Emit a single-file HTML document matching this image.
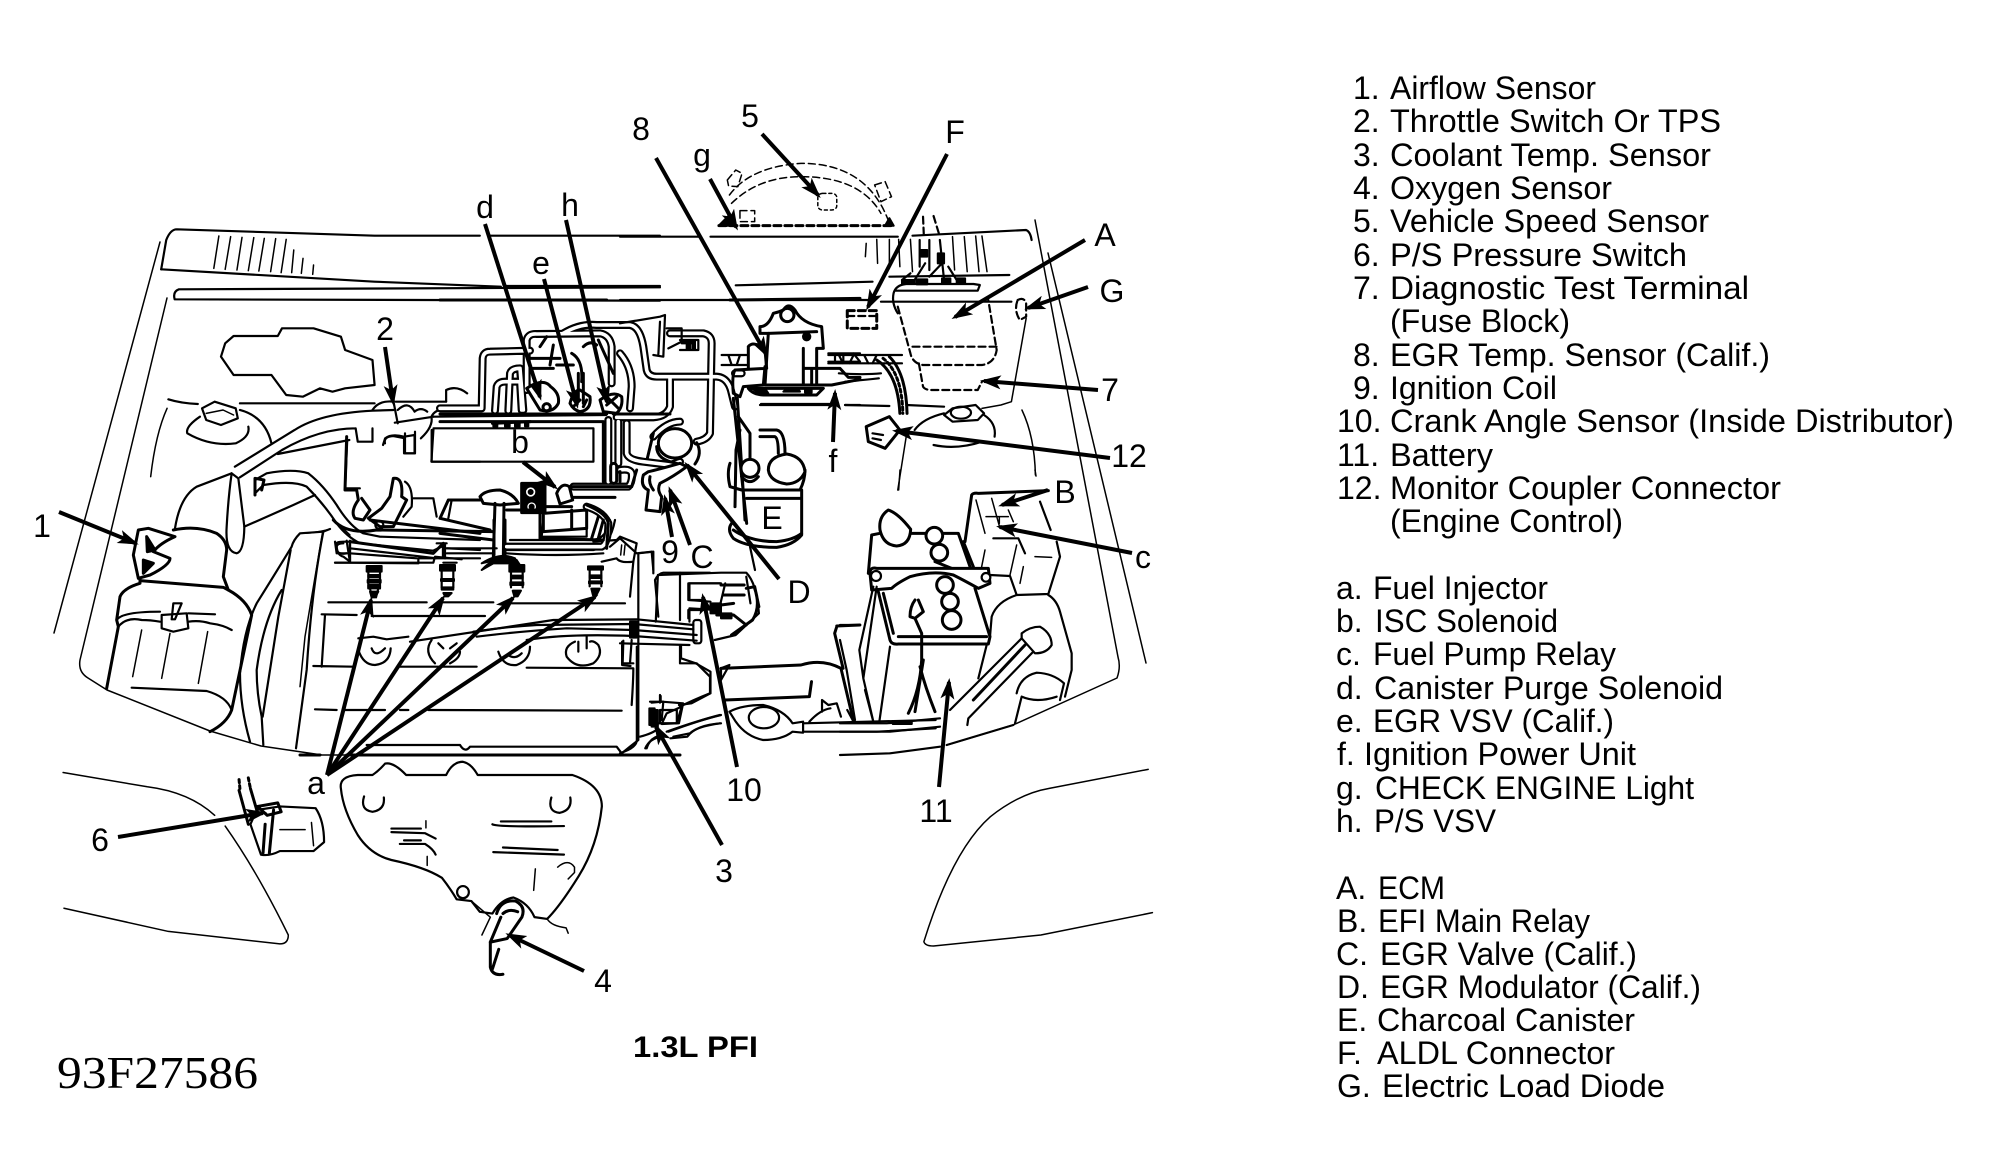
<!DOCTYPE html>
<html><head><meta charset="utf-8"><style>
html,body{margin:0;padding:0;background:#fff;width:1991px;height:1174px;overflow:hidden}
svg{display:block}
path,line,ellipse,circle,rect{vector-effect:non-scaling-stroke}
.art{fill:none;stroke:#000;stroke-width:2;stroke-linecap:round;stroke-linejoin:round}
.t{stroke-width:1.5}.m{stroke-width:2.2}.b{stroke-width:3}
.f{fill:#000}.w{fill:#fff}
.d{stroke-dasharray:7 4}.dd{stroke-dasharray:3 3}
.po{stroke:#000;stroke-width:8;fill:none;stroke-linecap:round;stroke-linejoin:round}
.pi{stroke:#fff;stroke-width:3.6;fill:none;stroke-linecap:round;stroke-linejoin:round}
.ar line{stroke:#000;stroke-width:4;marker-end:url(#m)}
text{font-family:"Liberation Sans",sans-serif;fill:#000}
.lb{font-size:32px;text-anchor:middle}
.le{font-size:32px}
</style></head><body>
<svg xmlns="http://www.w3.org/2000/svg" width="1991" height="1174" viewBox="0 0 1991 1174">
<defs>
<marker id="m" markerUnits="userSpaceOnUse" markerWidth="24" markerHeight="16" refX="17" refY="7" orient="auto"><path d="M0,0 L21,7 L0,14 L5,7Z" fill="#000"/></marker>
<path id="pp" d="M0,355 L125,355 L128,205 Q130,185 150,185 L270,182 M260,300 L260,150 Q265,130 290,132 L480,130 Q510,135 515,170 L515,280 M165,362 L170,290 Q175,275 195,275 L240,275 L245,360 M205,362 L210,250 Q215,235 240,235 L250,360 M370,130 Q420,100 470,105 L570,105 Q600,110 610,170 L620,240 Q625,260 650,260 L830,260 Q865,262 875,310 L885,350 M540,190 Q575,230 575,290 L570,355 M690,130 L790,130 Q815,135 815,160 L810,430 Q800,450 770,455 M690,260 L690,350 Q680,380 640,382 L530,382 M505,390 L505,575 M535,395 L535,520 M560,400 L560,490 Q565,510 610,515 L690,525 L720,515 M400,590 L565,590 Q578,575 575,550 Q570,535 540,540 M640,440 Q680,395 720,395 M200,770 L485,770 Q505,760 505,700 Q490,665 440,650 M885,250 L905,250"/>
</defs>

<!-- body / cowl -->
<g class="art">
<path class="t" d="M160,242 L54,633"/>
<path class="t" d="M167,298 L80,660 Q78,672 88,678 L107,690 L210,731 L261,746 L322,755 L357,755"/>
<path class="t" d="M1035,220 L1118,657 Q1121,667 1117,678 L1013,725 L947,745"/>
<path class="t" d="M1048,253 L1146,663"/>
</g>
<g class="art" transform="translate(0,80) scale(.42088,.33333)">
<path class="m" d="M383,568 L395,480 Q405,448 420,448 L890,467 L1140,467 M1165,467 L1568,467"/>
<path class="m" d="M383,568 L890,605 L1190,620"/>
<path class="m" d="M425,628 L1568,622 M425,628 Q410,635 415,658 L1568,662 M1200,618 L1568,618"/>
<path class="t" d="M520,468 L508,565 M548,470 L535,568 M575,472 L563,570 M603,473 L590,572 M628,475 L615,573 M655,476 L643,575 M680,478 L668,578 M698,510 L693,578 M720,535 L716,580 M745,555 L743,583"/>
<path class="m" d="M555,768 L660,768 L670,745 L745,745 L810,770 L820,810 L885,840 L890,915 L820,925 L790,935 L760,925 L720,950 L680,945 L645,885 L555,885 L525,830 L535,790 Z"/>
<path class="m" d="M400,958 Q430,970 470,972 M570,970 L890,970 M940,965 L1060,965"/>
<path class="t" d="M397,985 Q370,1060 358,1190"/>
<path class="m w" d="M480,985 L510,965 L560,985 L565,1015 L525,1035 L490,1020 Z"/>
<path class="t" d="M490,1000 L530,990 L555,1005"/>
<path class="m" d="M475,1010 Q440,1040 445,1060 Q500,1100 560,1090 Q595,1070 590,1040 M570,990 Q630,1010 645,1090"/>
<path class="m" d="M885,990 Q900,960 935,965 L945,1030 M945,990 Q970,960 985,995 Q1000,980 1015,995 M1060,965 L1060,930 Q1085,915 1110,940"/>
<path class="m" d="M558,1160 L700,1050 Q760,1000 885,992 L935,990 M570,1192 L670,1110 Q760,1045 845,1045 M660,1122 L830,1080 M845,1045 L850,1085 L885,1085 L885,1045 M825,1080 L820,1225 L855,1225 "/>
<path class="m" d="M938,1028 L1030,1010 M1000,1075 Q1030,1040 1025,1010 Q1035,985 1060,990 L1140,990 M910,1095 L915,1075 Q930,1060 960,1070 L985,1065 L985,1120 L960,1120 L960,1075"/>
<path class="m" d="M1030,1045 L1410,1045 L1410,1145 L1025,1145 Z"/>
<path class="m" d="M1030,1010 L1440,1005"/>
<path class="b" d="M1170,1030 L1260,1025"/>
</g>

<!-- air cleaner region -->
<g class="art" transform="translate(60,430) scale(.33333)">
<path class="m w" d="M515,130 Q505,200 500,290 Q495,365 530,370 Q552,365 553,290 L535,145 Z"/>
<path class="m" d="M553,290 L700,225 L765,195"/>
<path class="m" d="M515,130 L410,170 Q360,200 345,295"/>
<path class="b" d="M340,300 Q410,285 470,310 Q500,330 500,360 L490,440 L505,480"/>
<path class="b" d="M235,300 L265,295 L345,320 Q300,340 280,365 L330,385 Q330,405 270,435 L235,445 L220,375 Z"/>
<path class="b f" d="M260,320 L285,360 L262,365 Z M250,390 L280,400 L250,430 Z"/>
<path class="b" d="M240,445 L240,460 Q190,475 180,500 L170,570 L175,590 L140,775"/>
<path class="b" d="M240,452 Q370,462 490,472 L505,480 Q560,510 575,555 L515,840 Q500,880 450,905"/>
<path class="m" d="M170,570 Q185,545 300,545 M385,550 L465,553 M175,590 Q200,560 245,570 Q270,570 300,575 M385,575 Q420,570 450,580 Q490,585 515,600"/>
<path class="m w" d="M305,555 L380,550 L385,595 L340,605 L305,595 Z"/>
<path class="m" d="M340,520 L365,520 L345,568 L335,568 Z"/>
<path class="t" d="M245,600 L218,740 M330,610 L305,745 M443,605 L415,760"/>
<path class="m" d="M215,773 L440,783 Q500,800 515,840"/>
<path class="m" d="M810,297 L790,305 L720,310 Q700,330 695,350 Q640,440 590,520 Q550,600 540,730 Q540,830 570,935"/>
<path class="m" d="M665,480 Q610,570 590,720 Q590,790 605,860 L610,945"/>
<path class="m" d="M692,360 L655,560 L608,860"/>
<path class="m" d="M790,305 Q755,480 740,720 L708,955"/>
<path class="m" d="M585,150 L620,130 Q700,115 745,130 Q790,165 830,225 Q870,290 910,310 L960,320 L1260,330"/>
<path class="m" d="M585,190 L610,165 Q700,150 740,170 Q790,220 830,280 Q860,320 900,340 L1120,362 L1155,345 L1155,385"/>
<path class="b" d="M585,145 L585,195 M585,145 L612,150 L605,180"/>
<path class="m" d="M830,345 Q825,335 850,335 L870,335 L870,395 L850,380 Q830,375 830,345 Z M870,355 L1130,385 M825,398 L870,398 L1075,400 L1075,385 L1150,385 L1260,385 M1160,355 L1260,360"/>
<path class="b" d="M860,20 L855,180 L890,180 M890,180 L895,210 Q870,245 885,265 L910,270 L930,240 L905,205"/>
<path class="b" d="M1000,145 Q1030,140 1025,200 L1040,210 L1000,290 L960,290 L925,265 L965,235 L990,200 Z"/>
<path class="m" d="M1035,155 Q1060,170 1055,230 L1030,260 M1060,205 L1120,205 L1130,260 M1165,265 L1175,210 L1260,210"/>
<path class="b" d="M930,270 L1260,310"/>
<circle class="m" cx="958" cy="285" r="12"/>
<path class="m" d="M975,40 Q970,20 1000,18 M1035,10 L1035,70 L1065,70 L1065,5 M1035,25 L1000,18 M1115,0 L1115,95 L1260,95"/>
</g>

<!-- engine lower -->
<g class="art" transform="translate(300,520) scale(.33333)">
<path class="m" d="M85,247 L380,247 M420,247 L580,247 M630,250 L975,250"/>
<path class="m" d="M65,283 L170,285 M215,288 L555,288"/>
<path class="m" d="M75,285 L65,440 M40,438 L160,440 M300,440 L530,440 M680,443 L1000,445 Q1000,480 995,555"/>
<path class="m" d="M45,568 L110,570 M135,570 L255,570 M300,570 L325,570 M385,570 L965,572"/>
<path class="m" d="M200,675 L480,675 Q495,700 510,680 L950,680 L965,700 L990,680 L1015,660 L1015,100 L1060,95 L1060,160"/>
<path class="b" d="M0,705 L60,705 M140,705 L1140,705"/>
<path class="t" d="M100,0 Q125,20 150,45 M80,30 Q40,40 0,40 M68,35 L15,350 L0,500"/>
<path class="m" d="M175,390 Q190,435 225,435 Q270,430 272,385 M215,385 Q225,415 255,385"/>
<path class="m" d="M395,360 Q370,395 405,430 M450,430 Q480,415 480,395 M415,370 L430,385 M450,385 L470,370"/>
<path class="m" d="M595,395 Q610,440 650,435 Q690,420 690,380 M625,405 Q645,420 665,400"/>
<path class="m" d="M825,365 Q790,380 800,410 Q830,450 880,430 Q910,405 895,375 Q880,360 870,365 M835,365 L835,395 M860,350 L860,385"/>
<path class="m" d="M175,355 L220,350 L260,358 L325,350"/>
<path class="m" d="M330,365 Q500,340 760,300 L1010,298 L1180,315"/>
<path class="m" d="M520,335 Q620,320 710,315 L1000,312 L1180,328"/>
<path class="m" d="M530,350 Q650,335 800,325 L1000,330 L1190,345"/>
<path class="m" d="M680,360 Q800,340 1000,348 L1190,362"/>
<rect class="f" x="990" y="305" width="20" height="48"/>
<rect class="m" x="1180" y="300" width="24" height="70" rx="8"/>
<path class="m" d="M970,362 L968,430 L1000,430 M995,360 L990,430"/>
<path class="m" d="M105,128 L400,128 L405,110 L485,118 M430,128 L470,128 M105,128 L150,128 M105,65 L110,100 L140,100 M140,62 L150,128 M150,62 L150,128 M150,100 L350,115"/>
<path class="m" d="M130,70 Q105,70 110,90 Q115,105 140,100"/>
<path class="b" d="M100,0 Q140,45 230,30 L580,35 M150,65 L400,100 L430,70 L430,110"/>
<path class="m" d="M410,70 L440,70 M440,85 L590,85 M440,100 L580,100"/>
<path class="m" d="M630,60 L880,60 Q920,55 930,0 M620,90 L880,90 Q930,80 945,0 M730,0 L725,50 L860,50 L860,0"/>
<path class="b" d="M582,0 L582,105 M615,0 L615,105"/>
<path class="f" d="M545,130 Q600,95 645,115 L650,130 L620,122 L580,122 Z"/>
<path class="m" d="M905,125 L950,115 Q960,130 1000,125 L1010,70 L960,50 L950,60 L880,65"/>
<path class="t" d="M965,75 L962,105 M975,75 L972,105"/>
<path class="m" d="M1000,125 L990,230"/>
<path class="m" d="M1075,290 L1065,180 Q1075,160 1090,158 L1230,158"/>
<path class="m" d="M1140,158 L1140,300 M1165,190 L1260,190 M1165,190 L1165,240 L1215,240 M1165,270 L1210,270 L1165,270 L1165,295"/>
<path class="m" d="M1140,375 L1140,430 L1190,430 L1230,470 L1230,520 M1230,520 Q1180,540 1140,560"/>
<path class="m" d="M1050,545 L1090,545 L1085,600 M1100,580 L1145,560 L1130,610 L1085,612 Z"/>
<rect class="f" x="1048" y="565" width="16" height="50"/>
<path class="m" d="M1082,528 L1082,545"/>
<path class="m" d="M1020,650 Q1060,640 1075,625 M1040,685 Q1050,650 1090,645 M1100,635 Q1200,600 1260,585 M1120,650 L1170,640 Q1190,620 1260,610"/>
<!-- injectors -->
<g id="inj">
<path class="f" d="M200,138 L245,138 L245,155 L200,155 Z M205,165 L240,165 L240,172 L205,172 Z M203,180 L242,180 L242,188 L203,188 Z M205,195 L240,195 L240,205 L205,205 Z M210,215 L235,215 L225,232 L215,232 Z"/>
<path class="m" d="M205,155 L205,205 M240,155 L240,205 M210,205 L215,232 M235,205 L228,232"/>
</g>
<g transform="translate(220,-3)"><path class="f" d="M200,138 L245,138 L245,155 L200,155 Z M203,180 L242,180 L242,186 L203,186 Z M205,205 L240,205 L240,212 L205,212 Z M210,222 L235,222 L225,232 L215,232 Z"/><path class="m" d="M205,155 L205,205 M240,155 L240,205"/></g>
<g transform="translate(428,-3)"><path class="f" d="M200,138 L245,138 L245,158 L200,158 Z M205,170 L240,170 L240,178 L205,178 Z M203,190 L242,190 L242,198 L203,198 Z M210,215 L235,215 L225,232 L215,232 Z"/><path class="m" d="M205,155 L205,205 M240,155 L240,205"/></g>
<g transform="translate(664,-6)"><path class="f" d="M200,145 L245,145 L245,155 L200,155 Z M205,172 L240,172 L240,180 L205,180 Z M203,190 L242,190 L242,196 L203,196 Z M210,212 L235,212 L225,232 L215,232 Z"/><path class="m" d="M205,155 L205,205 M240,155 L240,205"/></g>
</g>

<!-- pipes middle -->
<g transform="translate(440,290) scale(.33333)">
<use href="#pp" class="po"/><use href="#pp" class="pi"/>
</g>
<g class="art" transform="translate(440,290) scale(.33333)">
<path class="b" d="M0,372 L500,372 M0,395 L490,395 L490,575 M520,372 L690,372"/>
<path class="b" d="M0,30 L500,30 M870,30 L1260,25"/>
<path class="b w" d="M260,295 Q310,262 332,290 Q360,310 355,340 Q340,370 300,360 Z"/>
<path class="b w" d="M390,340 Q400,300 420,300 L450,320 Q455,360 420,365 Q400,360 390,340 Z"/>
<path class="b w" d="M480,330 Q520,300 545,320 Q550,350 530,370 L490,365 Z"/>
<circle class="b" cx="320" cy="352" r="11"/>
<path class="b" d="M500,345 L530,320 M500,320 L535,355 M400,350 L420,330 M430,350 L440,330"/>
<path class="f" d="M160,398 h12 v12 h-12z M195,398 h14 v12 h-14z M225,398 h14 v12 h-14z M255,395 h10 v14 h-10z"/>
<path class="m" d="M540,100 L660,80 L675,75 L670,200 L640,195 M660,95 L655,195 M680,115 L725,115 L725,155 L685,175 M720,150 L775,150 L775,180 L720,180"/>
<path class="f" d="M725,150 h40 v10 h-40z M740,160 h10 v18 h-10z M757,160 h8 v18 h-8z"/>
<path class="b" d="M330,225 L340,165 M300,205 L360,205 M350,225 L400,225 M395,190 Q430,210 425,275 M430,170 Q450,150 470,165 M430,250 L430,340 M415,250 L415,330 M475,150 L520,250 M270,205 L320,205 M280,235 L340,235 M300,170 L320,140"/>
<!-- modulator -->
<ellipse class="b w" cx="705" cy="460" rx="50" ry="44"/>
<path class="b" d="M650,470 Q650,510 710,520 M770,458 Q788,490 765,522 M640,430 L622,505"/>
<!-- valve C -->
<path class="b w" d="M610,555 Q600,590 625,600 L618,660 L660,665 L665,620 Q650,600 660,580 Q700,560 740,530 L720,520 Q650,540 625,545 Z"/>
<path class="b" d="M630,560 Q625,580 640,600"/>
<rect class="b" x="512" y="520" width="18" height="60" rx="9" fill="#fff"/>
<path class="b" d="M540,545 L540,575 M590,540 L575,590"/>
<!-- ISC -->
<path class="b f" d="M245,580 L315,580 L315,668 L245,668 Z"/>
<circle cx="272" cy="606" r="17" fill="#fff" stroke="#000" stroke-width="2"/>
<circle cx="275" cy="650" r="16" fill="#fff" stroke="#000" stroke-width="2"/>
<circle cx="272" cy="606" r="6" fill="#000"/>
<circle cx="275" cy="650" r="6" fill="#000"/>
<path class="b w" d="M350,610 Q365,575 388,590 L398,630 L360,642 Z"/>
<path class="b" d="M395,590 L575,590 M400,622 L525,622"/>
<path class="b" d="M310,670 L440,660 L440,715 L310,725 Z M395,660 L395,715"/>
<path class="b" d="M315,650 L395,650 M440,645 Q500,670 505,700 L500,775 M455,745 L475,680 M475,745 L490,690"/>
<path class="b" d="M300,660 L300,745 M200,660 L300,660 M300,745 L490,750"/>
<path class="b" d="M25,630 L120,630 M25,630 L0,685 M0,685 L150,720 M0,730 L160,750"/>
<path class="b w" d="M120,620 Q135,600 180,600 Q220,610 235,640 L180,645 L130,640 Z"/>
<path class="b" d="M165,640 L160,800 M192,640 L190,800"/>
<path class="f" d="M125,840 Q170,790 230,810 L250,840 L210,820 L160,820 Z"/>
<path class="m" d="M200,790 Q350,800 490,790 M510,770 L540,745 L590,790 L635,785 L640,840"/>
<!-- EGR temp bracket -->
<path class="b w" d="M960,110 Q985,110 1000,70 Q1020,65 1030,60 Q1045,35 1065,60 Q1085,100 1145,110 L1150,175 L1130,175 L1130,285 L975,285 L985,130 L960,130 Z"/>
<circle class="b" cx="1042" cy="75" r="20"/>
<circle class="f" cx="1100" cy="140" r="11"/>
<path class="b" d="M985,130 L1130,125 M1090,175 L1090,285 M1095,235 L1200,235 L1225,262 L1260,262 M1130,285 L1175,285 L1260,268 M1115,235 L1115,285"/>
<path class="b" d="M925,170 Q940,150 975,180 L980,235 L885,240 Q875,255 880,310 L900,320 L910,290 L970,285 L975,230 M925,170 L925,235"/>
<path class="b" d="M925,295 Q940,315 975,315 L1130,315 L1150,295 Z"/>
<path class="f" d="M935,295 L975,295 L985,310 L960,312 Z M1040,295 L1075,295 L1080,305 L1030,305 Z M1095,300 h20 v8 h-20z"/>
<path class="m" d="M845,195 L920,195 M845,225 L920,225 M865,195 L875,225 M900,195 L890,225 M1165,190 L1260,190 M1165,215 L1260,215 M1185,190 L1185,215 M1210,190 L1210,215 M1240,190 L1260,215"/>
<path class="m" d="M960,345 L1165,345 M1215,345 L1260,345"/>
<!-- canister -->
<path class="b" d="M880,325 L920,700 M892,325 L915,690 M895,380 L930,430 L930,510 M900,420 L888,480 L885,650"/>
<path class="b" d="M870,520 Q860,550 870,590 L905,600 L1080,600 Q1095,570 1095,540"/>
<path class="b w" d="M985,540 Q985,500 1040,492 Q1090,500 1095,545 Q1080,580 1040,582 Q990,575 985,540 Z"/>
<circle class="b w" cx="930" cy="535" r="27"/>
<path class="b" d="M905,560 Q930,590 955,560"/>
<path class="b" d="M960,420 L1010,420 Q1035,425 1035,490 M960,440 L1005,440 Q1015,445 1015,490"/>
<path class="b" d="M920,625 L1085,625 L1085,735 Q1060,765 1010,772 Q920,772 880,745 Q860,720 875,700 M1085,600 L1085,625 M880,720 Q930,755 1010,755 Q1060,750 1085,730"/>
<path class="m" d="M930,770 L945,840"/>
</g>

<!-- right top details -->
<g class="art" transform="translate(620,80) scale(.42088,.33333)">
<path class="m" d="M0,470 L190,470 M215,470 L660,470 M695,467 L965,450 Q975,455 978,480"/>
<path class="m" d="M275,616 L600,605 M640,590 L925,585 M620,665 L930,665 M0,660 L590,660"/>
<path class="t" d="M585,490 L583,530 M610,478 L612,550 M640,478 L640,550 M662,478 L665,560 M690,478 L695,575 M790,470 L795,570 M818,470 L825,575 M845,468 L853,575 M860,468 L872,575"/>
<path class="t d" d="M260,345 Q310,260 430,250 Q590,250 640,430"/>
<path class="t d" d="M265,370 Q330,290 430,290 Q570,290 620,400"/>
<path class="b d" d="M235,437 L650,437"/>
<path class="m f" d="M235,437 L260,405 L275,437 Z M640,415 L650,437 L630,437 Z"/>
<path class="t d" d="M255,300 L275,270 L290,280 L280,320 L258,318 Z"/>
<path class="t d" d="M605,315 L630,305 L645,350 L620,365 Z"/>
<rect class="t dd" x="470" y="340" width="45" height="50" rx="12"/>
<rect class="t d" x="285" y="392" width="35" height="33"/>
<path class="b d" d="M540,692 L610,692 L610,745 L540,745 Z"/>
<path class="m d" d="M540,708 L610,708"/>
<path class="m" d="M655,632 L850,632 L855,615 L840,612 L680,612 Q655,615 650,640 Q645,670 660,700"/>
<path class="m d" d="M660,680 L690,820 Q695,850 720,855 L860,855 Q890,850 895,810 L875,660"/>
<path class="m d" d="M695,800 L895,800"/>
<path class="m d" d="M710,850 L720,920 Q725,930 740,930 L850,930 L860,905"/>
<path class="m d" d="M720,410 L722,470 M745,408 L760,470"/>
<path class="m" d="M670,600 L690,580 M700,600 L725,550 M712,480 L712,560 M735,590 L765,550 M770,600 L760,480 M800,600 L780,560 M735,480 L735,570"/>
<path class="f" d="M670,600 h30 v12 h-30z M705,598 h25 v15 h-25z M765,595 h20 v15 h-20z M800,595 h20 v15 h-20z M755,520 h15 v30 h-15z M715,510 h15 v20 h-15z"/>
<path class="m d" d="M945,660 Q960,650 965,670 L965,710 L950,720 Q935,690 945,660 Z"/>
<path class="t" d="M965,715 L930,965 L905,975 L860,985"/>
<path class="m" d="M335,972 L500,972 M535,975 L640,978 M680,975 L770,980"/>
<path class="m" d="M495,825 L670,825 M495,850 L670,850 M520,825 L530,850 M555,825 L545,850 M580,825 L590,850 M610,825 L600,850"/>
<path class="b" d="M610,840 Q660,880 665,1000 M640,830 Q680,880 682,1000"/>
<path class="b dd" d="M625,835 Q670,880 672,1000"/>
<path class="b w" d="M585,1040 L640,1010 L665,1050 L630,1105 L590,1085 Z"/>
<path class="m" d="M640,1010 L660,1040 M600,1060 L625,1065 M600,1075 L620,1080"/>
<path class="m w" d="M790,985 L845,975 L865,1000 L850,1020 L790,1025 L770,1005 Z"/>
<ellipse class="m" cx="810" cy="998" rx="24" ry="18"/>
<path class="m" d="M770,1000 Q720,1015 700,1050 M865,1005 Q895,1030 890,1070 M745,1095 Q800,1110 860,1085"/>
<path class="t" d="M955,990 Q985,1070 987,1185 M680,1070 L660,1230"/>
<path class="m" d="M520,880 Q580,885 620,880 M535,905 Q580,900 615,895"/>
</g>

<!-- distributor -->
<g class="art" transform="translate(620,540) scale(.42088,.33333)">
<path class="m" d="M85,245 L90,105 L240,98 L300,98 Q325,130 330,220 L275,285 L225,300"/>
<path class="m" d="M165,130 L240,130 M165,130 L165,180 L215,185 M165,205 L230,210 M165,205 L165,245 M250,130 L235,210 M300,110 L310,190"/>
<path class="b" d="M240,135 L295,135 M245,165 L295,165 M240,195 L270,190 M230,225 L270,225 L300,255 M320,145 Q335,200 315,240 L265,285 M300,145 L320,140 L330,200"/>
<path class="f" d="M215,190 h25 v30 h-25z M240,220 h25 v15 h-25z"/>
<path class="m" d="M40,320 L40,600 Q40,620 10,635 L0,640 M145,315 L145,355 L180,370 L215,395 L215,460 L170,490 L140,495 M95,465 L95,488"/>
<path class="m" d="M0,310 L165,315 M5,305 L5,375 L25,378"/>
<path class="b" d="M240,385 L430,375 Q480,355 525,385 L555,545"/>
<path class="b" d="M250,480 L450,470 L455,425"/>
<path class="b" d="M515,260 L510,280 L530,385 M515,258 L570,255"/>
<path class="m" d="M240,385 L260,375 L240,420 Z"/>
<path class="m" d="M260,515 Q290,495 340,495 Q390,510 410,550 L435,545 L435,578 L410,575 Q385,600 340,600 Q300,590 275,545 Z"/>
<ellipse class="m" cx="342" cy="533" rx="36" ry="32"/>
<path class="m" d="M435,550 L750,540 M435,575 L610,575 L750,565 M480,515 L480,480 L495,495 L515,490 L525,530 M450,545 Q475,510 500,505 M540,510 L555,545"/>
<path class="f" d="M648,543 h45 v9 h-45z"/>
<path class="m" d="M115,575 Q190,540 240,525 M120,595 L160,590 Q180,555 240,550 M60,625 Q70,595 100,590"/>
<path class="m" d="M75,488 L100,485 L150,490 L140,550 L85,550"/>
<rect class="m" x="95" y="510" width="40" height="40"/>
<rect class="f" x="75" y="510" width="15" height="50"/>
</g>

<!-- battery / fender -->
<g class="art" transform="translate(840,470) scale(.33333)">
<path class="b" d="M120,180 Q115,140 145,120 Q175,130 212,178 Q210,225 170,228 Q130,225 120,180 Z M95,195 L120,190 M215,190 L260,190 M310,190 L355,190 L390,290 M95,195 L85,310"/>
<path class="b" d="M375,215 L395,75 Q400,68 415,70 L625,62 M370,215 L400,290"/>
<circle class="b w" cx="283" cy="197" r="25"/><circle class="b w" cx="298" cy="248" r="25"/>
<path class="b" d="M285,275 L335,295"/>
<path class="b w" d="M90,310 Q90,290 110,295 L445,295 L450,340 L415,355 Q370,330 340,315 Q280,300 210,320 Q170,340 155,355 L95,360 Z"/>
<circle class="m w" cx="108" cy="318" r="15"/><circle class="m w" cx="438" cy="322" r="13"/>
<path class="b" d="M115,365 L150,510 Q155,525 175,522 L445,522 L450,500 L405,355 M175,500 L440,500 M130,370 L160,490"/>
<circle class="b w" cx="315" cy="345" r="25"/><circle class="b w" cx="330" cy="395" r="25"/><circle class="b w" cx="335" cy="450" r="28"/>
<path class="b" d="M225,390 Q210,410 210,440 L225,445 L250,425 L235,390 M225,445 L245,490 L245,570 Q240,660 205,730 M240,590 Q255,650 285,725 M250,570 L225,725"/>
<path class="m" d="M150,530 L118,755 M100,350 L58,540 L70,625 L100,755 M110,350 L70,625 M75,660 L100,755 M0,465 L60,465 M0,510 L20,600 L45,750"/>
<path class="m" d="M450,315 L510,318 L530,375 L625,372 L660,260 L650,215"/>
<path class="t" d="M408,90 L435,190 M455,85 L480,175 M505,120 L520,155 M438,140 L505,140 M478,140 L478,160 M435,240 L425,290 M585,260 L635,262 M550,290 L540,340 M530,225 L510,315"/>
<path class="m" d="M460,205 L535,205 L555,250 M600,95 L632,180"/>
<path class="m" d="M530,375 Q470,395 455,440 L450,500 M440,525 L415,625 M625,375 Q650,390 660,425 L695,550 L695,600 L675,680"/>
<path class="m" d="M545,490 Q570,470 600,470 Q635,490 635,525 Q620,550 585,550 L545,505 Z"/>
<path class="m" d="M545,505 L330,720 M580,545 L385,745 L382,765"/>
<path class="b" d="M555,525 L400,690"/>
<path class="m" d="M530,670 Q540,620 590,608 Q640,610 672,640 L660,690 M545,680 Q590,700 650,680 M545,680 L525,760"/>
<path class="m" d="M0,760 L140,760 L300,745 M0,785 L150,785 L300,770"/>
<path class="f" d="M160,753 h55 v9 h-55z"/>
<path class="m" d="M0,855 L150,850 L300,830 M320,825 L520,765"/>
<path class="t" d="M180,0 L176,60 M585,0 L588,18"/>
</g>

<!-- bottom: oil pan, headlights, switch -->
<g class="art" transform="translate(0,560) scale(.42088,.35714)">
<path class="t" d="M150,595 L350,635 Q450,650 510,715 M535,745 Q610,870 685,1050 Q685,1075 665,1075 L400,1040 L152,975"/>
<path class="m" d="M810,640 Q805,605 850,602 L885,602 Q900,590 915,570 Q935,565 965,602 L1060,602 Q1075,565 1100,565 Q1120,570 1135,602 L1360,602 Q1430,630 1430,690 Q1420,800 1375,885 Q1330,970 1300,1005 L1270,1000 Q1255,960 1220,945 Q1190,950 1170,990 L1140,985 L1120,955 L1085,950 Q1070,920 1050,890 Q1010,860 930,840 Q880,825 850,770 Q815,700 810,640 Z"/>
<path class="m" d="M865,662 Q855,700 885,705 Q915,700 912,665 M1310,665 Q1300,705 1330,708 Q1360,700 1355,665"/>
<path class="m" d="M1170,740 Q1180,748 1340,745 M1190,732 L1310,732 M1172,818 L1340,825 M1195,805 L1325,812 M930,762 L1010,765 L1035,780 M930,752 L1000,752 M950,795 L1010,795 Q1030,810 1035,825 M960,785 L1000,785"/>
<path class="t" d="M1012,730 L1012,750 M1015,830 L1015,855 M1272,865 L1268,925 M1325,860 Q1350,835 1365,860 L1365,875 L1350,893"/>
<ellipse class="m" cx="1100" cy="930" rx="14" ry="17"/>
<path class="t" d="M1120,955 L1165,1000 L1145,1050 M1300,1005 Q1310,1025 1345,1030 L1350,1045"/>
<path class="b w" d="M1180,990 Q1190,950 1225,955 Q1250,970 1240,1000 L1205,1060 L1165,1070 L1190,1000"/>
<path class="b" d="M1195,990 Q1210,975 1230,985 M1165,1070 L1165,1140 Q1170,1165 1195,1160 M1185,1090 L1170,1145"/>
<path class="m w" d="M665,690 L750,695 Q770,730 770,790 L745,815 L665,815 Q640,830 620,825 L595,740 L610,700 Z"/>
<path class="t" d="M740,735 L745,800 M665,755 L725,755"/>
<path class="b" d="M650,700 L640,820 M630,740 L625,820 M612,690 L660,680 L668,705 L635,715 Z M568,645 L590,740 M595,640 L610,700"/>
<path class="b dd" d="M568,615 L570,640 M590,610 L595,640"/>
</g>

<g class="art t" transform="translate(620,540) scale(.42088,.33333)">
<path d="M1255,688 L1020,745 Q950,760 880,830 Q790,930 722,1205 Q725,1218 745,1218 L1000,1185 L1265,1118"/>
</g>

<!-- arrows -->
<g class="ar">
<line x1="59" y1="512" x2="135" y2="543"/>
<line x1="385" y1="347" x2="393" y2="402"/>
<line x1="485" y1="224" x2="540" y2="397"/>
<line x1="544" y1="279" x2="577" y2="405"/>
<line x1="566" y1="220" x2="607" y2="402"/>
<line x1="523" y1="462" x2="555" y2="487"/>
<line x1="656" y1="158" x2="766" y2="354"/>
<line x1="710" y1="179" x2="736" y2="227"/>
<line x1="762" y1="134" x2="818" y2="195"/>
<line x1="947" y1="154" x2="868" y2="307"/>
<line x1="1085" y1="240" x2="955" y2="317"/>
<line x1="1088" y1="287" x2="1028" y2="308"/>
<line x1="1098" y1="390" x2="984" y2="381"/>
<line x1="1110" y1="458" x2="896" y2="431"/>
<line x1="833" y1="442" x2="835" y2="393"/>
<line x1="672" y1="537" x2="665" y2="498"/>
<line x1="690" y1="545" x2="670" y2="490"/>
<line x1="779" y1="579" x2="687" y2="465"/>
<line x1="1048" y1="490" x2="1002" y2="505"/>
<line x1="1132" y1="553" x2="1000" y2="527"/>
<line x1="737" y1="767" x2="703" y2="597"/>
<line x1="939" y1="787" x2="949" y2="682"/>
<line x1="722" y1="845" x2="656" y2="727"/>
<line x1="327" y1="775" x2="371" y2="600"/>
<line x1="327" y1="775" x2="443" y2="598"/>
<line x1="327" y1="775" x2="513" y2="598"/>
<line x1="327" y1="775" x2="595" y2="597"/>
<line x1="118" y1="837" x2="263" y2="813"/>
<line x1="584" y1="971" x2="509" y2="935"/>
</g>

<!-- callout labels -->
<g class="lb">
<text x="42" y="537">1</text><text x="385" y="340">2</text><text x="485" y="218">d</text>
<text x="570" y="216">h</text><text x="541" y="274">e</text><text x="520" y="453">b</text>
<text x="641" y="140">8</text><text x="750" y="127">5</text><text x="702" y="166">g</text>
<text x="955" y="143">F</text><text x="1105" y="246">A</text><text x="1112" y="302">G</text>
<text x="1110" y="401">7</text><text x="1129" y="467">12</text><text x="1065" y="503">B</text>
<text x="1143" y="568">c</text><text x="833" y="472">f</text><text x="670" y="563">9</text>
<text x="702" y="568">C</text><text x="799" y="603">D</text><text x="772" y="529">E</text>
<text x="316" y="794">a</text><text x="100" y="851">6</text><text x="603" y="992">4</text>
<text x="724" y="882">3</text><text x="744" y="801">10</text><text x="936" y="822">11</text>
</g>

<text x="57" y="1088" style="font-family:'Liberation Serif',serif;font-size:46px" textLength="201" lengthAdjust="spacingAndGlyphs">93F27586</text>
<text x="633" y="1057" style="font-weight:bold;font-size:30px" textLength="125" lengthAdjust="spacingAndGlyphs">1.3L PFI</text>

<!-- legend -->
<g class="le">
<text x="1353" y="99">1.</text><text x="1390" y="99" textLength="206" lengthAdjust="spacingAndGlyphs">Airflow Sensor</text>
<text x="1353" y="132">2.</text><text x="1390" y="132" textLength="331" lengthAdjust="spacingAndGlyphs">Throttle Switch Or TPS</text>
<text x="1353" y="166">3.</text><text x="1390" y="166" textLength="321" lengthAdjust="spacingAndGlyphs">Coolant Temp. Sensor</text>
<text x="1353" y="199">4.</text><text x="1390" y="199" textLength="222" lengthAdjust="spacingAndGlyphs">Oxygen Sensor</text>
<text x="1353" y="232">5.</text><text x="1390" y="232" textLength="319" lengthAdjust="spacingAndGlyphs">Vehicle Speed Sensor</text>
<text x="1353" y="266">6.</text><text x="1390" y="266" textLength="297" lengthAdjust="spacingAndGlyphs">P/S Pressure Switch</text>
<text x="1353" y="299">7.</text><text x="1390" y="299" textLength="359" lengthAdjust="spacingAndGlyphs">Diagnostic Test Terminal</text>
<text x="1390" y="332" textLength="180" lengthAdjust="spacingAndGlyphs">(Fuse Block)</text>
<text x="1353" y="366">8.</text><text x="1390" y="366" textLength="380" lengthAdjust="spacingAndGlyphs">EGR Temp. Sensor (Calif.)</text>
<text x="1353" y="399">9.</text><text x="1390" y="399" textLength="167" lengthAdjust="spacingAndGlyphs">Ignition Coil</text>
<text x="1337" y="432">10.</text><text x="1390" y="432" textLength="564" lengthAdjust="spacingAndGlyphs">Crank Angle Sensor (Inside Distributor)</text>
<text x="1337" y="466">11.</text><text x="1390" y="466" textLength="103" lengthAdjust="spacingAndGlyphs">Battery</text>
<text x="1337" y="499">12.</text><text x="1390" y="499" textLength="391" lengthAdjust="spacingAndGlyphs">Monitor Coupler Connector</text>
<text x="1390" y="532" textLength="233" lengthAdjust="spacingAndGlyphs">(Engine Control)</text>

<text x="1336" y="599">a.</text><text x="1373" y="599" textLength="175" lengthAdjust="spacingAndGlyphs">Fuel Injector</text>
<text x="1336" y="632">b.</text><text x="1375" y="632" textLength="183" lengthAdjust="spacingAndGlyphs">ISC Solenoid</text>
<text x="1336" y="665">c.</text><text x="1373" y="665" textLength="243" lengthAdjust="spacingAndGlyphs">Fuel Pump Relay</text>
<text x="1336" y="699">d.</text><text x="1374" y="699" textLength="349" lengthAdjust="spacingAndGlyphs">Canister Purge Solenoid</text>
<text x="1336" y="732">e.</text><text x="1373" y="732" textLength="241" lengthAdjust="spacingAndGlyphs">EGR VSV (Calif.)</text>
<text x="1337" y="765">f.</text><text x="1364" y="765" textLength="272" lengthAdjust="spacingAndGlyphs">Ignition Power Unit</text>
<text x="1336" y="799">g.</text><text x="1375" y="799" textLength="319" lengthAdjust="spacingAndGlyphs">CHECK ENGINE Light</text>
<text x="1336" y="832">h.</text><text x="1374" y="832" textLength="122" lengthAdjust="spacingAndGlyphs">P/S VSV</text>

<text x="1336" y="899">A.</text><text x="1378" y="899" textLength="67" lengthAdjust="spacingAndGlyphs">ECM</text>
<text x="1337" y="932">B.</text><text x="1378" y="932" textLength="212" lengthAdjust="spacingAndGlyphs">EFI Main Relay</text>
<text x="1336" y="965">C.</text><text x="1380" y="965" textLength="257" lengthAdjust="spacingAndGlyphs">EGR Valve (Calif.)</text>
<text x="1337" y="998">D.</text><text x="1380" y="998" textLength="321" lengthAdjust="spacingAndGlyphs">EGR Modulator (Calif.)</text>
<text x="1337" y="1031">E.</text><text x="1377" y="1031" textLength="258" lengthAdjust="spacingAndGlyphs">Charcoal Canister</text>
<text x="1337" y="1064">F.</text><text x="1377" y="1064" textLength="238" lengthAdjust="spacingAndGlyphs">ALDL Connector</text>
<text x="1337" y="1097">G.</text><text x="1382" y="1097" textLength="283" lengthAdjust="spacingAndGlyphs">Electric Load Diode</text>
</g>
</svg>
</body></html>
